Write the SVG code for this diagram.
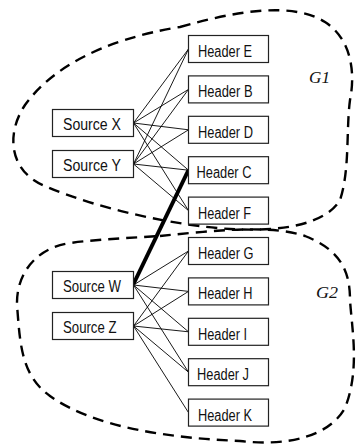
<svg xmlns="http://www.w3.org/2000/svg" width="357" height="446" viewBox="0 0 357 446">
<style>
.box{fill:#fff;stroke:#222;stroke-width:1.2}
.lbl{font-family:"Liberation Sans",Arial,sans-serif;font-size:16px;fill:#111}
.grp{fill:none;stroke:#000;stroke-width:2.4;stroke-dasharray:11 7}
.gl{font-family:"Liberation Serif","Times New Roman",serif;font-style:italic;font-size:16px;fill:#111}
.ln{stroke:#000;stroke-width:0.9;fill:none}
.thick{stroke:#000;stroke-width:4;fill:none}
</style>
<rect width="357" height="446" fill="#fff"/>
<g id="groups">
<path class="grp" d="M 180 27 C 230 13, 290 0, 325 22 C 350 38, 356 70, 350 100 C 346 130, 350 170, 340 200 C 325 225, 280 232, 230 229 C 180 226, 100 210, 45 186 C 10 172, 5 135, 25 105 C 50 70, 100 40, 180 27 Z"/>
<path class="grp" d="M 160 236 C 210 231, 270 224, 305 236 C 340 250, 350 270, 350 300 C 352 330, 360 370, 345 408 C 330 435, 290 447, 240 441 C 170 438, 95 428, 50 396 C 20 375, 20 340, 17 305 C 16 275, 35 248, 70 243 C 100 239, 130 238, 160 236 Z"/>
<text class="gl" x="309" y="83" textLength="21" lengthAdjust="spacingAndGlyphs">G1</text>
<text class="gl" x="316" y="298" textLength="22" lengthAdjust="spacingAndGlyphs">G2</text>
</g>
<g id="connectors">
<line class="ln" x1="133.5" y1="123" x2="188.5" y2="49"/>
<line class="ln" x1="133.5" y1="123" x2="188.5" y2="89.4"/>
<line class="ln" x1="133.5" y1="123" x2="188.5" y2="129.8"/>
<line class="ln" x1="133.5" y1="123" x2="188.5" y2="170.2"/>
<line class="ln" x1="133.5" y1="123" x2="188.5" y2="210.6"/>
<line class="ln" x1="133.5" y1="164" x2="188.5" y2="49"/>
<line class="ln" x1="133.5" y1="164" x2="188.5" y2="89.4"/>
<line class="ln" x1="133.5" y1="164" x2="188.5" y2="129.8"/>
<line class="ln" x1="133.5" y1="164" x2="188.5" y2="170.2"/>
<line class="ln" x1="133.5" y1="164" x2="188.5" y2="210.6"/>
<line class="ln" x1="133.5" y1="285" x2="188.5" y2="251"/>
<line class="ln" x1="133.5" y1="285" x2="188.5" y2="291.4"/>
<line class="ln" x1="133.5" y1="285" x2="188.5" y2="331.8"/>
<line class="ln" x1="133.5" y1="285" x2="188.5" y2="372.2"/>
<line class="ln" x1="133.5" y1="326" x2="188.5" y2="251"/>
<line class="ln" x1="133.5" y1="326" x2="188.5" y2="291.4"/>
<line class="ln" x1="133.5" y1="326" x2="188.5" y2="331.8"/>
<line class="ln" x1="133.5" y1="326" x2="188.5" y2="372.2"/>
<line class="ln" x1="133.5" y1="326" x2="188.5" y2="412.6"/>
<line class="thick" x1="133.5" y1="284" x2="188.5" y2="170"/>
</g>
<g id="sourceX"><rect class="box" x="52.5" y="109.5" width="81" height="27"/><text class="lbl" x="63" y="130" textLength="58" lengthAdjust="spacingAndGlyphs">Source X</text></g>
<g id="sourceY"><rect class="box" x="52.5" y="150.5" width="81" height="27"/><text class="lbl" x="63" y="171" textLength="58" lengthAdjust="spacingAndGlyphs">Source Y</text></g>
<g id="sourceW"><rect class="box" x="52.5" y="271.5" width="81" height="27"/><text class="lbl" x="63" y="292" textLength="58" lengthAdjust="spacingAndGlyphs">Source W</text></g>
<g id="sourceZ"><rect class="box" x="52.5" y="312.5" width="81" height="27"/><text class="lbl" x="63" y="333" textLength="53.5" lengthAdjust="spacingAndGlyphs">Source Z</text></g>
<g id="headerE"><rect class="box" x="188.5" y="35.5" width="80" height="27"/><text class="lbl" x="198" y="57" textLength="54" lengthAdjust="spacingAndGlyphs">Header E</text></g>
<g id="headerB"><rect class="box" x="188.5" y="75.9" width="80" height="27"/><text class="lbl" x="198" y="97.4" textLength="54.5" lengthAdjust="spacingAndGlyphs">Header B</text></g>
<g id="headerD"><rect class="box" x="188.5" y="116.3" width="80" height="27"/><text class="lbl" x="198" y="137.8" textLength="55" lengthAdjust="spacingAndGlyphs">Header D</text></g>
<g id="headerC"><rect class="box" x="188.5" y="156.7" width="80" height="27"/><text class="lbl" x="196.5" y="178.2" textLength="55" lengthAdjust="spacingAndGlyphs">Header C</text></g>
<g id="headerF"><rect class="box" x="188.5" y="197.1" width="80" height="27"/><text class="lbl" x="198" y="218.6" textLength="53" lengthAdjust="spacingAndGlyphs">Header F</text></g>
<g id="headerG"><rect class="box" x="188.5" y="237.5" width="80" height="27"/><text class="lbl" x="198" y="259" textLength="55.5" lengthAdjust="spacingAndGlyphs">Header G</text></g>
<g id="headerH"><rect class="box" x="188.5" y="277.9" width="80" height="27"/><text class="lbl" x="198" y="299.4" textLength="54.5" lengthAdjust="spacingAndGlyphs">Header H</text></g>
<g id="headerI"><rect class="box" x="188.5" y="318.3" width="80" height="27"/><text class="lbl" x="198" y="339.8" textLength="49" lengthAdjust="spacingAndGlyphs">Header I</text></g>
<g id="headerJ"><rect class="box" x="188.5" y="358.7" width="80" height="27"/><text class="lbl" x="197" y="380.2" textLength="52" lengthAdjust="spacingAndGlyphs">Header J</text></g>
<g id="headerK"><rect class="box" x="188.5" y="399.1" width="80" height="27"/><text class="lbl" x="198" y="420.6" textLength="54" lengthAdjust="spacingAndGlyphs">Header K</text></g>
</svg>
